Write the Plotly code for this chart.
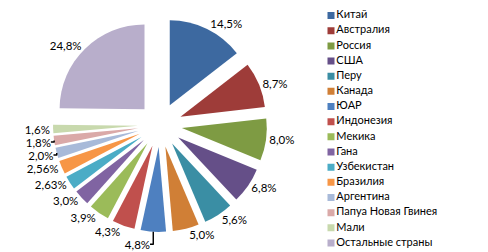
import plotly.graph_objects as go

countries = ["Китай", "Австралия", "Россия", "США", "Перу", "Канада", "ЮАР",
             "Индонезия", "Мекика", "Гана", "Узбекистан", "Бразилия", "Аргентина",
             "Папуа Новая Гвинея", "Мали", "Остальные страны"]
shares = [14.5, 8.7, 8.0, 6.8, 5.6, 5.0, 4.8, 4.3, 3.9, 3.0, 2.63, 2.56, 2.0, 1.8, 1.6, 24.8]
colors = ["#3D69A0", "#9E3C39", "#7E9B43", "#654F88", "#3A8EA4", "#D07F36",
          "#4E80C0", "#C0504D", "#9BBB59", "#8064A2", "#4BACC6", "#F79646",
          "#A8BAD9", "#DAA9A8", "#C8D9AD", "#B8AECB"]
share_text = [f"{v}".replace(".", ",") + "%" for v in shares]

FONT = "Lato"

fig = go.Figure()
fig.add_trace(go.Pie(
    labels=countries, values=shares, text=share_text,
    textinfo="text", textposition="outside",
    textfont=dict(family=FONT, size=11.5, color="#000000"),
    marker=dict(colors=colors, line=dict(width=0)),
    pull=[0.26] * len(shares),
    sort=False, direction="clockwise", rotation=0,
    showlegend=False,
    domain=dict(x=[0.0938, 0.5396], y=[0.082, 0.959]),
    hoverinfo="label+text",
))

# legend drawn as a scatter column
fig.add_trace(go.Scatter(
    x=[0.038] * len(countries), y=countries,
    mode="markers+text",
    marker=dict(symbol="square", size=7, color=colors),
    text=countries, textposition="middle right",
    textfont=dict(family=FONT, size=11, color="#000000"),
    showlegend=False, hoverinfo="text",
    xaxis="x", yaxis="y",
))

fig.update_layout(
    width=480, height=244,
    margin=dict(l=0, r=0, t=0, b=0, autoexpand=False),
    paper_bgcolor="white", plot_bgcolor="white",
    font=dict(family=FONT, size=12, color="#000000"),
    xaxis=dict(domain=[0.66, 1.0], range=[0, 1], visible=False, fixedrange=True),
    yaxis=dict(domain=[0.006, 1.0], type="category", categoryorder="array",
               categoryarray=countries, range=[15.5, -0.5], visible=False,
               fixedrange=True),
)

fig.write_html("out.html")
